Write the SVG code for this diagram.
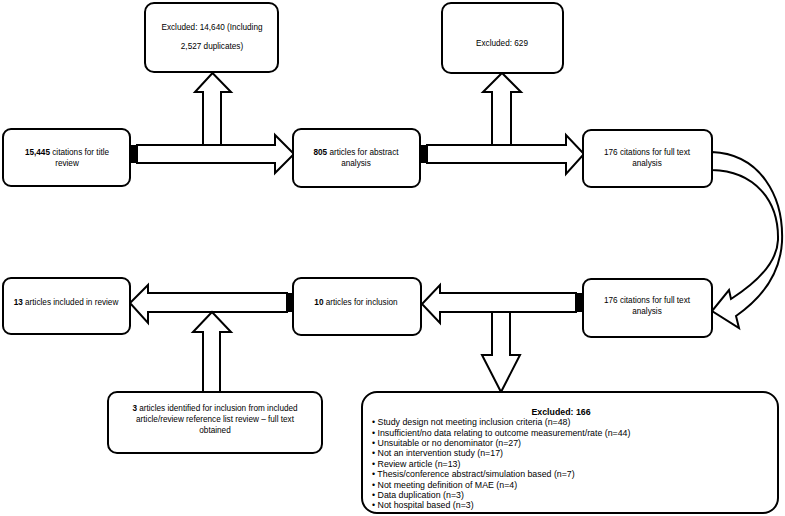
<svg xmlns="http://www.w3.org/2000/svg" width="785" height="516" viewBox="0 0 785 516">
<style>
.box{fill:#fff;stroke:#000;stroke-width:2}
.arr{fill:#fff;stroke:#000;stroke-width:2;stroke-linejoin:miter}
.tail{fill:#000}
text{font-family:"Liberation Sans",Arial,sans-serif;font-size:8.2px;fill:#000}
.c{text-anchor:middle}
.b{font-weight:bold}
.l{font-size:8.8px}
</style>
<rect width="785" height="516" fill="#fff"/>
<g id="connectors">
<polygon class="arr" points="137,145 275,145 275,135 294,154 275,173 275,163 137,163"/>
<rect class="tail" x="130" y="145" width="7" height="18"/>
<polygon class="arr" points="427,145 566,145 566,135 584,154 566,174 566,163 427,163"/>
<rect class="tail" x="420" y="145" width="7" height="18"/>
<polygon class="arr" points="203,145 203,92 195,92 212.5,73 231,92 221,92 221,145"/>
<polygon class="arr" points="492,145 492,92 483,92 502,73 521,92 511,92 511,145"/>
<polygon class="arr" points="576,293 440,293 440,285 422,304 440,323 440,312 576,312"/>
<rect class="tail" x="576" y="293" width="7" height="19"/>
<polygon class="arr" points="287,293 148,293 148,285 130,303 148,323 148,312 287,312"/>
<rect class="tail" x="287" y="293" width="6" height="19"/>
<polygon class="arr" points="492,312 492,355 482,355 501,392 520,355 510,355 510,312"/>
<polygon class="arr" points="203,392 203,332 193,332 212,312 231,332 220,332 220,392"/>
<path class="arr" d="M712,152 C760,154 784,196 782,242 C780,275 762,298 736,316 L739,328 L712,311 L729,290 L731,299 C756,283 777,264 778,240 C779,200 754,171 712,170 Z"/>
</g>
<g id="n1"><rect class="box" x="3" y="129" width="127" height="57" rx="8"/>
<text class="c" x="67" y="155"><tspan class="b">15,445</tspan> citations for title</text>
<text class="c" x="67" y="166">review</text></g>
<g id="n2"><rect class="box" x="145" y="3" width="133" height="69" rx="9"/>
<text class="c" x="212" y="30">Excluded: 14,640 (Including</text>
<text class="c" x="212" y="49">2,527 duplicates)</text></g>
<g id="n3"><rect class="box" x="293" y="129" width="127" height="58" rx="8"/>
<text class="c" x="356" y="155"><tspan class="b">805</tspan> articles for abstract</text>
<text class="c" x="356" y="166">analysis</text></g>
<g id="n4"><rect class="box" x="442" y="3" width="121" height="70" rx="9"/>
<text class="c" x="502" y="46">Excluded: 629</text></g>
<g id="n5"><rect class="box" x="583" y="130" width="129" height="57" rx="8"/>
<text class="c" x="647" y="155">176 citations for full text</text>
<text class="c" x="647" y="166">analysis</text></g>
<g id="n6"><rect class="box" x="583" y="279" width="129" height="58" rx="8"/>
<text class="c" x="647" y="303">176 citations for full text</text>
<text class="c" x="647" y="314">analysis</text></g>
<g id="n7"><rect class="box" x="293" y="278" width="128" height="57" rx="8"/>
<text class="c" x="356" y="305"><tspan class="b">10</tspan> articles for inclusion</text></g>
<g id="n8"><rect class="box" x="3" y="278" width="127" height="56" rx="8"/>
<text class="c" x="66" y="305"><tspan class="b">13</tspan> articles included in review</text></g>
<g id="n9"><rect class="box" x="108" y="392" width="214" height="61" rx="9"/>
<text class="c" x="215" y="411"><tspan class="b">3</tspan> articles identified for inclusion from included</text>
<text class="c" x="215" y="422">article/review reference list review – full text</text>
<text class="c" x="215" y="433">obtained</text></g>
<g id="n10"><rect class="box" x="362" y="392" width="416" height="121" rx="15"/>
<text class="c b l" x="561" y="414.5">Excluded: 166</text>
<text class="l" x="372" y="425.2">• Study design not meeting inclusion criteria (n=48)</text>
<text class="l" x="372" y="435.6">• Insufficient/no data relating to outcome measurement/rate (n=44)</text>
<text class="l" x="372" y="446">• Unsuitable or no denominator (n=27)</text>
<text class="l" x="372" y="456.4">• Not an intervention study (n=17)</text>
<text class="l" x="372" y="466.8">• Review article (n=13)</text>
<text class="l" x="372" y="477.2">• Thesis/conference abstract/simulation based (n=7)</text>
<text class="l" x="372" y="487.6">• Not meeting definition of MAE (n=4)</text>
<text class="l" x="372" y="498">• Data duplication (n=3)</text>
<text class="l" x="372" y="508.4">• Not hospital based (n=3)</text></g>
</svg>
